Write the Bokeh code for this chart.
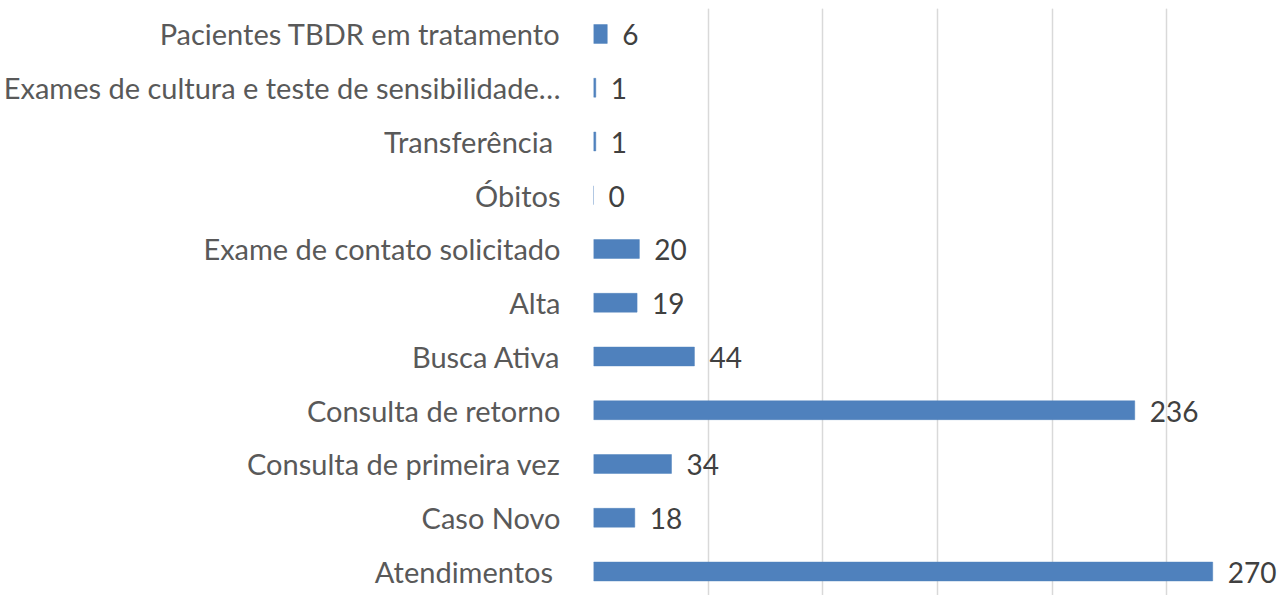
from bokeh.plotting import figure
from bokeh.models import Range1d, FixedTicker, SingleIntervalTicker, Grid, ColumnDataSource
from bokeh.core.properties import value
from bokeh.embed import file_html
from bokeh.resources import INLINE

categories = [
    "Atendimentos ",
    "Caso Novo",
    "Consulta de primeira vez",
    "Consulta de retorno",
    "Busca Ativa",
    "Alta",
    "Exame de contato solicitado",
    "Óbitos",
    "Transferência ",
    "Exames de cultura e teste de sensibilidade…",
    "Pacientes TBDR em tratamento",
]
values = [270, 18, 34, 236, 44, 19, 20, 0, 1, 1, 6]
value_labels = [str(v) for v in values]
positions = list(range(len(categories)))

FONT = "Lato"

src = ColumnDataSource(dict(y=positions, v=values, lab=value_labels))

p = figure(width=1281, height=595, output_backend="svg", toolbar_location=None,
           x_range=Range1d(0, 300), y_range=Range1d(-0.4465, 10.474),
           x_axis_location=None, min_border_left=593, min_border_right=0,
           min_border_top=8, min_border_bottom=0)
p.outline_line_color = None
p.ygrid.grid_line_color = None

p.add_layout(Grid(dimension=0, ticker=SingleIntervalTicker(interval=50),
                  grid_line_color="#d9d9d9", grid_line_width=1.5))

p.hbar(y="y", right="v", left=0, height=0.35, source=src,
       fill_color="#4f81bd", line_color="#4f81bd", line_width=0.5)

p.text(x="v", y="y", text="lab", source=src, x_offset=15, y_offset=1,
       text_font=value(FONT), text_font_size="28px", text_color="#404040",
       text_baseline="middle", text_align="left")

yax = p.yaxis[0]
yax.ticker = FixedTicker(ticks=positions)
yax.major_label_overrides = {i: c for i, c in enumerate(categories)}
yax.axis_line_color = None
yax.major_tick_line_color = None
yax.minor_tick_line_color = None
yax.major_label_text_font = FONT
yax.major_label_text_font_size = "29px"
yax.major_label_text_color = "#595959"
yax.major_label_standoff = 27

open("out.html", "w").write(file_html(p, INLINE))
